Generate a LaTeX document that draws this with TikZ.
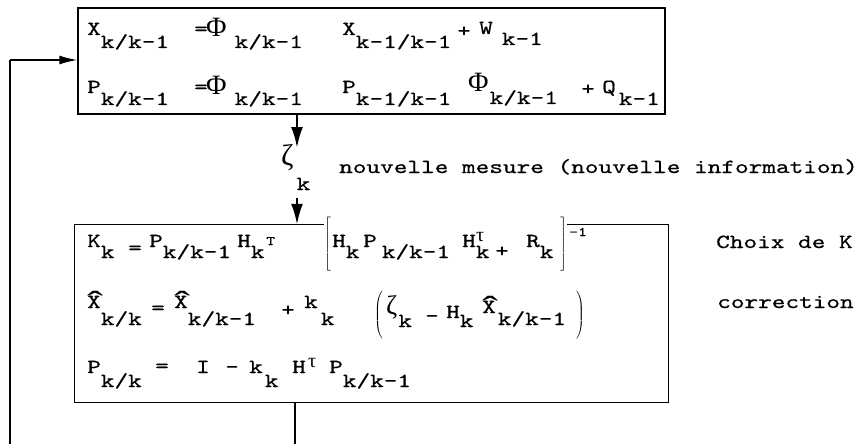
\documentclass[tikz,border=0pt]{standalone}
\usepackage{fontspec}
\usepackage{graphicx}
\usetikzlibrary{arrows.meta}
\newfontfamily\tw[FakeStretch=1.3,FakeBold=0.5]{lmmono10-regular.otf}
\newfontfamily\gr{Liberation Serif}
\newcommand\lo[2]{\raisebox{-#1pt}{#2}}
\newcommand\hX{\makebox[0pt][l]{\raisebox{-5pt}{\scalebox{1.5}[1]{\fontsize{32}{34}\gr ˆ}}}X}
\newcommand\Ph{{\fontsize{28}{30}\gr Φ}}
\tikzset{
  t/.style={font={\fontsize{20}{24}\tw}, inner sep=0pt, anchor=base west},
  ts/.style={font={\fontsize{13}{15}\tw}, inner sep=0pt, anchor=base west},
  gs/.style={font={\fontsize{20}{22}\gr}, inner sep=0pt, anchor=base west},
  delim/.style={inner sep=0pt},
  box/.style={draw, line width=1.3pt, inner sep=0pt},
  edge/.style={line width=1.3pt},
  arr/.style={line width=2.6pt, -{Latex[length=21pt,width=12pt]}},
  fb/.style={line width=1.5pt},
  fbarr/.style={line width=1.5pt, -{Latex[length=18pt,width=9pt]}},
}
\begin{document}
\begin{tikzpicture}[x=1pt,y=-1pt]
\useasboundingbox (0,0) rectangle (860,444);
% boxes
\node[box, minimum width=587pt, minimum height=106pt] (top) at (371.5,61) {};
\node[inner sep=0pt, minimum width=593pt, minimum height=177pt] (bot) at (371.5,313.5) {};
% top box, row 1
\node[t] (a1) at (87,35) {X\lo{13}{k/k-1}};
\node[t] (a2) at (194,35) {=};
\node[t] (a3) at (206,37) {\Ph\lo{11}{\kern8pt k/k-1}};
\node[t] (a4) at (342,35) {X\lo{13}{k-1/k-1}};
\node[t] (a5) at (457,37) {+};
\node[t] (a6) at (479,34) {W\lo{11}{\kern9pt k-1}};
% top box, row 2
\node[t] (b1) at (87,93) {P\lo{12}{k/k-1}};
\node[t] (b2) at (194,93) {=};
\node[t] (b3) at (206,95) {\Ph\lo{10}{\kern8pt k/k-1}};
\node[t] (b4) at (342,93) {P\lo{12}{k-1/k-1}};
\node[t] (b5) at (468,92) {\Ph\lo{12}{\kern1pt k/k-1}};
\node[t] (b6) at (581,95) {+};
\node[t] (b7) at (602,93) {Q\lo{12}{\kern3pt k-1}};
% measurement
\node[t, font={\fontsize{30}{32}\gr}] (z) at (281,165) {ζ\lo{25}{\fontsize{20}{24}\tw\kern3pt k}};
\node[t] (nm) at (339,173) {nouvelle mesure (nouvelle information)};
% bottom box, row K
\node[t] (c1) at (87,247) {K\lo{11}{k}};
\node[t] (c2) at (128,254) {=};
\node[t] (c3) at (149,247) {P\lo{11}{k/k-1}};
\node[t] (c4) at (237,247) {H\lo{11}{k}};
\node[ts] (c5) at (266,245) {T};
\node[delim] (c6) at (328,245) {$\left[\vrule height 27pt depth 27pt width 0pt\right.$};
\node[t] (c7) at (332,247) {H\lo{11}{k}};
\node[t] (c8) at (363,247) {P\lo{11}{\kern5pt k/k-1}};
\node[t] (c9) at (462,247) {H\lo{11}{k}};
\node[gs] (c10) at (476,241) {τ};
\node[t] (c11) at (495,257) {+};
\node[t] (c12) at (526,247) {R\lo{11}{k}};
\node[delim] (c13) at (563,245) {$\left.\vrule height 27pt depth 27pt width 0pt\right]$};
\node[ts] (c14) at (569,236) {-1};
% bottom box, row X
\node[t] (d1) at (87,308) {\hX\lo{17}{k/k}};
\node[t] (d2) at (151,314) {=};
\node[t] (d3) at (174,308) {\hX\lo{17}{k/k-1}};
\node[t] (d4) at (281,316) {+};
\node[t] (d5) at (304,308) {k\lo{17}{\kern3pt k}};
\node[delim] (d6) at (379,316) {$\left(\vrule height 24pt depth 24pt width 0pt\right.$};
\node[t, font={\fontsize{27}{30}\gr}] (d7) at (386,314) {ζ\lo{13}{\fontsize{20}{24}\tw\kern1pt k}};
\node[t] (d8) at (425,322) {-};
\node[t] (d9) at (446,318) {H\lo{9}{k}};
\node[t] (d10) at (482,313) {\hX\lo{12}{\kern2pt k/k-1}};
\node[delim] (d11) at (580,316) {$\left.\vrule height 24pt depth 24pt width 0pt\right)$};
% bottom box, row P
\node[t] (e1) at (87,373) {P\lo{14}{k/k}};
\node[t] (e2) at (155,372) {=};
\node[t] (e3) at (196,373) {I};
\node[t] (e4) at (225,373) {-};
\node[t] (e5) at (249,373) {k\lo{14}{\kern2pt k}};
\node[t] (e6) at (292,373) {H};
\node[gs] (e7) at (308,367) {τ};
\node[t] (e8) at (329,373) {P\lo{14}{k/k-1}};
% side labels
\node[t] (ck) at (716,248) {Choix de K};
\node[t] (co) at (717,308) {correction};
% bottom box outline (top edge interrupted by the bracket)
\draw[edge] (bot.north -| c6.west) -- (bot.north west) -- (bot.south west) -- (bot.south east) -- (bot.north east) -- (bot.north -| c13.east);
% arrows
\coordinate (a1c) at (297,148);
\draw[arr] (top.south -| a1c) -- (a1c);
\coordinate (a2c) at (297,198);
\draw[arr] (a2c) -- (bot.north -| a2c);
% feedback
\coordinate (f1) at (295,444);
\draw[fb] (bot.south -| f1) -- (f1);
\coordinate (f2) at (10,444);
\coordinate (f3) at (10,60);
\draw[fb] (f2) -- (f3);
\draw[fbarr] (f3) -- (top.west |- f3);
\end{tikzpicture}
\end{document}
